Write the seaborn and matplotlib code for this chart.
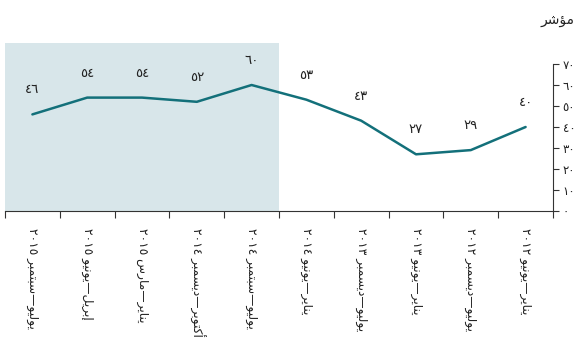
import re
import matplotlib
matplotlib.use("Agg")
import matplotlib.pyplot as plt
import seaborn as sns
import pandas as pd

# Survey periods (chronological) and index values
periods = [
    "يناير—يونيو 2012",
    "يوليو—ديسمبر 2012",
    "يناير—يونيو 2013",
    "يوليو—ديسمبر 2013",
    "يناير—يونيو 2014",
    "يوليو—سبتمبر 2014",
    "أكتوبر—ديسمبر 2014",
    "يناير—مارس 2015",
    "إبريل—يونيو 2015",
    "يوليو—سبتمبر 2015",
]
values = [40, 29, 27, 43, 53, 60, 52, 54, 54, 46]
yticks = [0, 10, 20, 30, 40, 50, 60, 70]
quarterly_count = 5  # most recent periods reported quarterly (shaded)
ylabel = "مؤشر"

# --- minimal Arabic shaping + RTL ordering (matplotlib has no bidi support) ---
FORMS = {
    "ا": (0xFE8D, 0xFE8E, None, None),
    "أ": (0xFE83, 0xFE84, None, None),
    "إ": (0xFE87, 0xFE88, None, None),
    "د": (0xFEA9, 0xFEAA, None, None),
    "ر": (0xFEAD, 0xFEAE, None, None),
    "و": (0xFEED, 0xFEEE, None, None),
    "ؤ": (0xFE85, 0xFE86, None, None),
    "ب": (0xFE8F, 0xFE90, 0xFE91, 0xFE92),
    "ت": (0xFE95, 0xFE96, 0xFE97, 0xFE98),
    "س": (0xFEB1, 0xFEB2, 0xFEB3, 0xFEB4),
    "ش": (0xFEB5, 0xFEB6, 0xFEB7, 0xFEB8),
    "ك": (0xFED9, 0xFEDA, 0xFEDB, 0xFEDC),
    "ل": (0xFEDD, 0xFEDE, 0xFEDF, 0xFEE0),
    "م": (0xFEE1, 0xFEE2, 0xFEE3, 0xFEE4),
    "ن": (0xFEE5, 0xFEE6, 0xFEE7, 0xFEE8),
    "ي": (0xFEF1, 0xFEF2, 0xFEF3, 0xFEF4),
}
DIGITS = str.maketrans("0123456789", "٠١٢٣٤٥٦٧٨٩")


def shape(run):
    out = []
    for i, c in enumerate(run):
        f = FORMS.get(c)
        if f is None:
            out.append(c)
            continue
        prev = run[i - 1] if i > 0 else None
        nxt = run[i + 1] if i < len(run) - 1 else None
        jp = prev in FORMS and FORMS[prev][2] is not None
        jn = f[2] is not None and nxt in FORMS
        cp = f[3] if (jp and jn) else f[1] if jp else f[2] if jn else f[0]
        out.append(chr(cp))
    return "".join(out)


def visual(text):
    text = text.translate(DIGITS)
    runs = re.findall(r"[٠-٩]+|[^٠-٩]+", text)
    parts = [r if r[0] in "٠١٢٣٤٥٦٧٨٩" else shape(r)[::-1] for r in runs]
    return "".join(reversed(parts))


sns.set_theme(style="white")
plt.rcParams["font.family"] = ["DejaVu Sans"]

# right-to-left time axis: newest period on the left
df = pd.DataFrame({"period": periods[::-1], "value": values[::-1]})
df["pos"] = range(len(df))

fig = plt.figure(figsize=(5.77, 3.40), dpi=100)
ax = fig.add_axes([5 / 577, 129 / 340, 548 / 577, 168 / 340])

ax.axvspan(-0.5, quarterly_count - 0.5, color="#d8e6ea", lw=0, zorder=0)
sns.lineplot(data=df, x="pos", y="value", color="#13707a", lw=1.8, ax=ax, zorder=3)

for x, v in zip(df["pos"], df["value"]):
    ax.annotate(visual(str(v)), (x, v), xytext=(0, 13), textcoords="offset points",
                ha="center", va="bottom", fontsize=9.5, color="#222222")

ax.set_xlim(-0.5, len(df) - 0.5)
ax.set_ylim(0, 80)

# y axis on the right
ax.yaxis.tick_right()
ax.set_yticks(yticks)
ax.set_yticklabels([visual(str(t)) for t in yticks], fontsize=8.5, color="#222222")
ax.tick_params(axis="y", direction="out", length=4, width=0.8, color="#333333", pad=3, right=True)

# x axis: labels at centres, ticks at category boundaries
ax.set_xticks(df["pos"])
ax.set_xticklabels([visual(p) for p in df["period"]], rotation=-90, fontsize=8.8,
                   va="top", ha="center", color="#222222")
ax.tick_params(axis="x", which="major", length=0, pad=12)
ax.set_xticks([i - 0.5 for i in range(len(df) + 1)], minor=True)
ax.tick_params(axis="x", which="minor", length=5, width=0.8, color="#333333", bottom=True)

ax.set_xlabel("")
ax.set_ylabel("")
for s in ["top", "left"]:
    ax.spines[s].set_visible(False)
ax.spines["right"].set_bounds(0, 70)
ax.spines["right"].set_color("#333333")
ax.spines["bottom"].set_color("#333333")
ax.spines["right"].set_linewidth(0.8)
ax.spines["bottom"].set_linewidth(0.8)

fig.text(558 / 577, 1 - 20 / 340, visual(ylabel), ha="center", va="center",
         fontsize=10, color="#222222")

fig.savefig("out.png", dpi=100)
